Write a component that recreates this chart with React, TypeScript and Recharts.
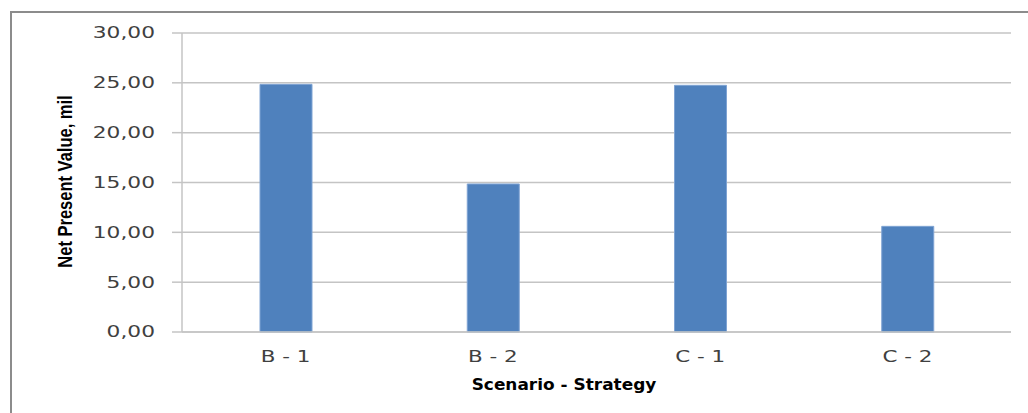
import { BarChart, Bar, XAxis, YAxis, CartesianGrid } from "recharts";

/* ---------- DATA ---------- */
const categories = ["B - 1", "B - 2", "C - 1", "C - 2"];
const npvValues = [24.85, 14.85, 24.75, 10.6];
const yTicks = [0, 5, 10, 15, 20, 25, 30];

const data = categories.map((name, i) => ({ name, npv: npvValues[i] }));

/* ---------- STYLE ---------- */
const BAR_COLOR = "#4f81bd";
const GRID_COLOR = "#c4c4c4";
const TEXT_COLOR = "#404040";
const FONT = "'DejaVu Sans', sans-serif";

const fmt = (v: number) => v.toFixed(2).replace(".", ",");

function YTick({ x, y, payload }: any) {
  return (
    <g transform={`translate(${x},${y}) scale(1.45,1)`}>
      <text
        x={0}
        y={0}
        dy="0.36em"
        textAnchor="end"
        fill={TEXT_COLOR}
        fontSize={15}
        fontFamily={FONT}
      >
        {fmt(Number(payload.value))}
      </text>
    </g>
  );
}

function XTick({ x, y, payload }: any) {
  return (
    <g transform={`translate(${x},${y}) scale(1.43,1)`}>
      <text
        x={0}
        y={22}
        textAnchor="middle"
        fill={TEXT_COLOR}
        fontSize={15}
        fontFamily={FONT}
      >
        {payload.value}
      </text>
    </g>
  );
}

export default function App() {
  return (
    <div
      style={{
        position: "relative",
        width: 1028,
        height: 413,
        overflow: "hidden",
        background: "#fff",
      }}
    >
      <style>{"html,body{margin:0;padding:0;overflow:hidden;background:#fff}"}</style>
      {/* frame: only top and left edges fall inside the picture */}
      <div
        style={{
          position: "absolute",
          left: 10,
          top: 11,
          width: 1018,
          height: 402,
          borderTop: "2px solid #8c8c8c",
          borderLeft: "2px solid #8c8c8c",
          boxSizing: "border-box",
        }}
      />
      <div style={{ position: "absolute", left: 0, top: 0 }}>
        <BarChart
          width={1028}
          height={413}
          data={data}
          margin={{ top: 33, right: 17, bottom: 31, left: 102 }}
          barSize={52}
        >
          <CartesianGrid
            vertical={false}
            stroke={GRID_COLOR}
            strokeWidth={1.5}
          />
          <XAxis
            dataKey="name"
            height={50}
            tickLine={false}
            axisLine={{ stroke: GRID_COLOR, strokeWidth: 1.5 }}
            tick={<XTick />}
            interval={0}
          />
          <YAxis
            width={80}
            domain={[0, 30]}
            ticks={yTicks}
            interval={0}
            tickSize={10}
            tickMargin={17}
            tickLine={{ stroke: GRID_COLOR, strokeWidth: 1.5 }}
            axisLine={{ stroke: GRID_COLOR, strokeWidth: 1.5 }}
            tick={<YTick />}
          />
          <Bar
            dataKey="npv"
            fill={BAR_COLOR}
            stroke="#7fa3d3"
            strokeWidth={1}
            isAnimationActive={false}
          />
        </BarChart>
      </div>
      {/* axis titles */}
      <svg
        width={1028}
        height={413}
        style={{ position: "absolute", left: 0, top: 0, pointerEvents: "none" }}
      >
        <g transform="translate(65,181.5) scale(1.19,1) rotate(-90)">
          <text
            x={0}
            y={0}
            dy="0.36em"
            textAnchor="middle"
            fontSize={16.5}
            fontWeight="bold"
            fontFamily="'Liberation Sans', Arial, sans-serif"
            fill="#000"
          >
            Net Present Value, mil
          </text>
        </g>
        <g transform="translate(564,390) scale(1.13,1)">
          <text
            x={0}
            y={0}
            textAnchor="middle"
            fontSize={15}
            fontWeight="bold"
            fontFamily={FONT}
            fill="#000"
          >
            Scenario - Strategy
          </text>
        </g>
      </svg>
    </div>
  );
}
